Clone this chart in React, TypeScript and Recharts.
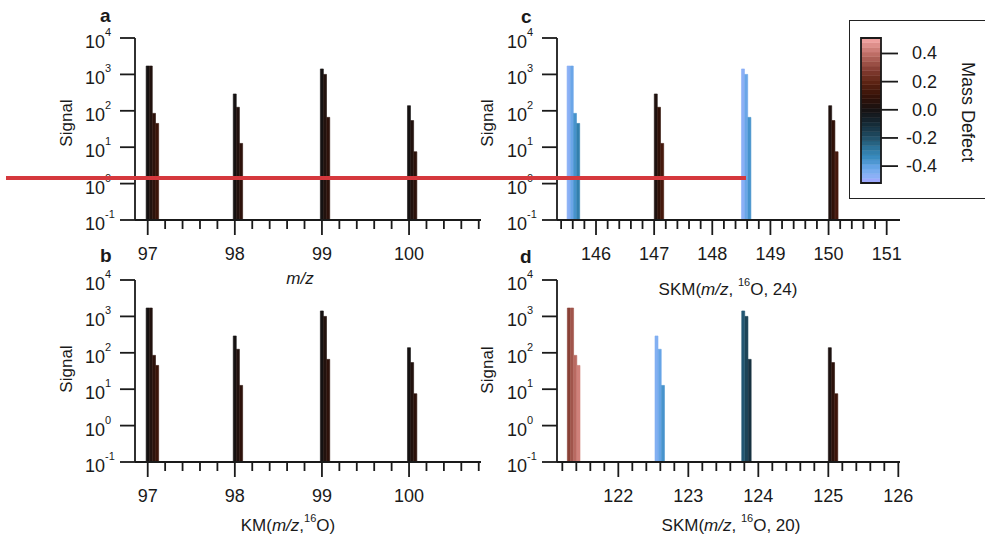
import React from 'react';
import { BarChart, Bar, XAxis, YAxis, Cell, ComposedChart, ReferenceArea } from 'recharts';

// ---------------- data ----------------
// signal heights per peak (same peak pattern in all four panels)
const signal = [1700, 1700, 85, 45, 290, 125, 12.7, 1410, 1000, 66, 138, 54, 7.5];
// panel a: m/z
const mzA = [97.0, 97.036, 97.073, 97.109, 98.0, 98.036, 98.073, 99.0, 99.036, 99.073, 100.0, 100.036, 100.073];
// panel b: KM(m/z, 16O)
const kmB = [97.0, 97.036, 97.073, 97.109, 98.0, 98.036, 98.073, 99.0, 99.036, 99.073, 100.0, 100.036, 100.073];
// panel c: SKM(m/z, 16O, 24)
const skmC = [145.53, 145.585, 145.64, 145.695, 147.03, 147.085, 147.14, 148.53, 148.585, 148.64, 150.03, 150.085, 150.14];
// panel d: SKM(m/z, 16O, 20)
const skmD = [121.295, 121.341, 121.387, 121.433, 122.547, 122.593, 122.639, 123.786, 123.832, 123.878, 125.023, 125.069, 125.115];

const yTicks = [0.1, 1, 10, 100, 1000, 10000];
const majorA = [97, 98, 99, 100];
const majorC = [146, 147, 148, 149, 150, 151];
const majorD = [122, 123, 124, 125, 126];
const colorTicks = [-0.4, -0.2, 0, 0.2, 0.4];

// ---------------- style helpers ----------------
const FONT = '"Liberation Sans", Arial, Helvetica, sans-serif';
const INK = '#1a1a1a';

const stops: [number, string][] = [
  [-0.52, '#a4a6ff'],
  [-0.46, '#86b2f4'],
  [-0.4, '#62a2e4'],
  [-0.34, '#3a8cc0'],
  [-0.28, '#2e78a0'],
  [-0.2, '#215068'],
  [-0.1, '#142a36'],
  [0.0, '#161212'],
  [0.1, '#361208'],
  [0.2, '#5e2414'],
  [0.3, '#8c4238'],
  [0.4, '#c07068'],
  [0.51, '#f6a8a8'],
];

function hex(h: string) {
  return [parseInt(h.slice(1, 3), 16), parseInt(h.slice(3, 5), 16), parseInt(h.slice(5, 7), 16)];
}
function cmap(v: number) {
  if (v <= stops[0][0]) return stops[0][1];
  if (v >= stops[stops.length - 1][0]) return stops[stops.length - 1][1];
  for (let i = 1; i < stops.length; i++) {
    if (v <= stops[i][0]) {
      const [a, ca] = stops[i - 1];
      const [b, cb] = stops[i];
      const t = (v - a) / (b - a);
      const A = hex(ca), B = hex(cb);
      const c = A.map((q, k) => Math.round(q + (B[k] - q) * t));
      return `rgb(${c[0]},${c[1]},${c[2]})`;
    }
  }
  return '#000';
}
const massDefect = (x: number) => x - Math.round(x);

function minorTicks(lo: number, hi: number) {
  const out: number[] = [];
  for (let k = Math.round(lo * 5); k <= Math.round(hi * 5); k++) out.push(k / 5);
  return out;
}

const LogTick = (props: any) => {
  const { x, y, payload } = props;
  const e = Math.round(Math.log10(payload.value));
  return (
    <text x={x - 35} y={y + 10} fontFamily={FONT} fontSize={18} fill={INK} textAnchor="start">
      10
      <tspan dy={-12} fontSize={11}>{e}</tspan>
    </text>
  );
};

const makeXTick = (majors: number[]) => (props: any) => {
  const { x, y, payload } = props;
  const v = payload.value;
  const major = majors.some((m) => Math.abs(v - m) < 1e-6);
  return (
    <g>
      <line x1={x} x2={x} y1={y} y2={y + (major ? 15 : 9)} stroke={INK} strokeWidth={1.8} />
      {major && (
        <text x={x} y={y + 40} textAnchor="middle" fontFamily={FONT} fontSize={18} fill={INK}>
          {Math.round(v)}
        </text>
      )}
    </g>
  );
};

const ColorTick = (props: any) => {
  const { x, y, payload } = props;
  return (
    <text x={x + 39} y={y + 6} textAnchor="end" fontFamily={FONT} fontSize={18} fill={INK}>
      {Number(payload.value).toFixed(1)}
    </text>
  );
};

type PanelProps = {
  xs: number[];
  domain: [number, number];
  ticks: number[];
  majors: number[];
  left: number;
  top: number;
  height: number;
  yAxisWidth: number;
  rightMargin: number;
};

function Panel({ xs, domain, ticks, majors, left, top, height, yAxisWidth, rightMargin }: PanelProps) {
  const data = xs.map((x, i) => ({ x, s: signal[i] }));
  const width = 500;
  const XT = makeXTick(majors);
  return (
    <div style={{ position: 'absolute', left, top }}>
      <BarChart
        width={width}
        height={height}
        data={data}
        margin={{ top: 38, right: rightMargin, bottom: height - 38 - 182 - 40, left: 0 }}
      >
        <XAxis
          type="number"
          dataKey="x"
          domain={domain}
          allowDataOverflow
          ticks={ticks}
          interval={0}
          tickSize={0}
          tickMargin={0}
          height={40}
          axisLine={{ stroke: INK, strokeWidth: 1.8 }}
          tickLine={false}
          tick={<XT />}
        />
        <YAxis
          type="number"
          scale="log"
          domain={[0.1, 10000]}
          allowDataOverflow
          ticks={yTicks}
          interval={0}
          width={yAxisWidth}
          tickSize={15}
          tickMargin={0}
          axisLine={{ stroke: INK, strokeWidth: 1.8 }}
          tickLine={{ stroke: INK, strokeWidth: 1.8 }}
          tick={<LogTick />}
        />
        <Bar dataKey="s" barSize={3} isAnimationActive={false}>
          {data.map((d, i) => {
            const c = cmap(massDefect(d.x));
            return <Cell key={i} fill={c} stroke={c} strokeWidth={0.6} />;
          })}
        </Bar>
      </BarChart>
    </div>
  );
}

function ColorBar() {
  const lo = -0.52;
  const hi = 0.51;
  const n = 31;
  const step = (hi - lo) / n;
  const bands = Array.from({ length: n }, (_, i) => [lo + i * step, lo + (i + 1) * step]);
  return (
    <div style={{ position: 'absolute', left: 840, top: 0 }}>
      <ComposedChart width={140} height={200} data={[{ x: 0 }, { x: 1 }]} margin={{ top: 38, right: 0, bottom: 17, left: 21 }}>
        <XAxis type="number" dataKey="x" domain={[0, 1]} hide />
        <YAxis
          type="number"
          orientation="right"
          domain={[lo, hi]}
          allowDataOverflow
          ticks={colorTicks}
          interval={0}
          width={99}
          tickSize={17}
          tickMargin={0}
          axisLine={false}
          tickLine={{ stroke: INK, strokeWidth: 1.8 }}
          tick={<ColorTick />}
        />
        {bands.map(([a, b], i) => (
          <ReferenceArea
            key={i}
            x1={0}
            x2={1}
            y1={a}
            y2={b}
            fill={cmap((a + b) / 2)}
            fillOpacity={1}
            stroke={cmap((a + b) / 2)}
            strokeWidth={0.5}
            ifOverflow="visible"
          />
        ))}
        <ReferenceArea x1={0} x2={1} y1={lo} y2={hi} fill="none" stroke={INK} strokeWidth={1.8} ifOverflow="visible" />
      </ComposedChart>
    </div>
  );
}

const Sup = ({ children }: any) => (
  <tspan dy={-9} fontSize={11}>
    {children}
  </tspan>
);

export default function App() {
  return (
    <div
      style={{
        position: 'absolute',
        left: 0,
        top: 0,
        width: 985,
        height: 539,
        overflow: 'hidden',
        background: '#fff',
        fontFamily: FONT,
      }}
    >
      <Panel xs={mzA} domain={[96.854, 100.826]} ticks={minorTicks(97, 100.8)} majors={majorA} left={0} top={0} height={300} yAxisWidth={135} rightMargin={19} />
      <Panel xs={kmB} domain={[96.854, 100.826]} ticks={minorTicks(97, 100.8)} majors={majorA} left={0} top={242} height={297} yAxisWidth={135} rightMargin={19} />
      <Panel xs={skmC} domain={[145.329, 151.229]} ticks={minorTicks(145.4, 151)} majors={majorC} left={421} top={0} height={300} yAxisWidth={136} rightMargin={21} />
      <Panel xs={skmD} domain={[121.124, 126.024]} ticks={minorTicks(121.2, 126)} majors={majorD} left={421} top={242} height={297} yAxisWidth={136} rightMargin={21} />

      <div
        style={{
          position: 'absolute',
          left: 849,
          top: 20,
          width: 150,
          height: 179,
          border: '1.5px solid #222',
          boxSizing: 'border-box',
        }}
      />
      <ColorBar />

      <svg width={985} height={539} style={{ position: 'absolute', left: 0, top: 0, pointerEvents: 'none' }}>
        <g fontFamily={FONT} fill={INK}>
          <text x={100} y={22} fontSize={19} fontWeight="bold">a</text>
          <text x={100} y={262} fontSize={19} fontWeight="bold">b</text>
          <text x={521} y={23} fontSize={19} fontWeight="bold">c</text>
          <text x={520} y={263} fontSize={19} fontWeight="bold">d</text>

          <text transform="translate(72,123) rotate(-90)" textAnchor="middle" fontSize={17}>Signal</text>
          <text transform="translate(72,369) rotate(-90)" textAnchor="middle" fontSize={17}>Signal</text>
          <text transform="translate(493,123) rotate(-90)" textAnchor="middle" fontSize={17}>Signal</text>
          <text transform="translate(493,370) rotate(-90)" textAnchor="middle" fontSize={17}>Signal</text>

          <text x={300} y={284} textAnchor="middle" fontSize={17} fontStyle="italic">m/z</text>
          <text x={728} y={295} textAnchor="middle" fontSize={17}>
            SKM(<tspan fontStyle="italic">m/z</tspan>, <Sup>16</Sup>
            <tspan dy={9}>O, 24)</tspan>
          </text>
          <text x={288} y={531} textAnchor="middle" fontSize={17}>
            KM(<tspan fontStyle="italic">m/z</tspan>,<Sup>16</Sup>
            <tspan dy={9}>O)</tspan>
          </text>
          <text x={731} y={531} textAnchor="middle" fontSize={17}>
            SKM(<tspan fontStyle="italic">m/z</tspan>, <Sup>16</Sup>
            <tspan dy={9}>O, 20)</tspan>
          </text>

          <text transform="translate(962,112) rotate(90)" textAnchor="middle" fontSize={18}>Mass Defect</text>
        </g>
      </svg>

      <div style={{ position: 'absolute', left: 6, top: 176, width: 740, height: 4, background: '#d5383d' }} />
    </div>
  );
}
